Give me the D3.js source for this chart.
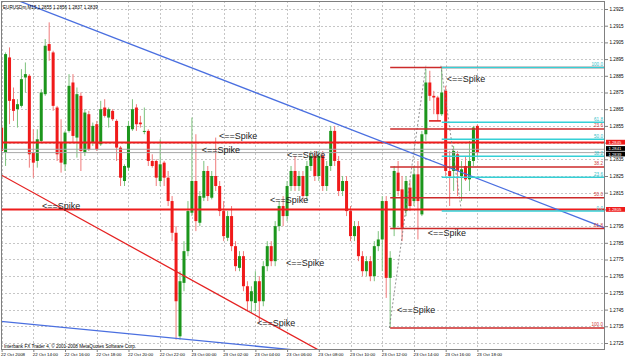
<!DOCTYPE html>
<html><head><meta charset="utf-8">
<script src="https://cdn.jsdelivr.net/npm/d3@7"></script>
<style>body{margin:0;background:#fff}svg{display:block}</style>
</head><body><svg id="c" width="625" height="360"></svg>
<script>
// ---------------- DATA ----------------
const titleText = "EURUSDm,M15  1.2855 1.2856 1.2837 1.2839";
const copyrightText = "Interbank FX Trader 4, \u00a9 2001-2008 MetaQuotes Software Corp.";
const timeLabels = ["22 Oct 2008","22 Oct 14:00","22 Oct 16:00","22 Oct 18:00","22 Oct 20:00","22 Oct 22:00",
  "23 Oct 00:00","23 Oct 02:00","23 Oct 04:00","23 Oct 06:00","23 Oct 08:00","23 Oct 10:00","23 Oct 12:00",
  "23 Oct 14:00","23 Oct 16:00","23 Oct 18:00"];
const timeTickBars = [0,8,16,24,32,40,48,56,64,72,80,88,96,104,112,120];
const priceTicks = [1.2925,1.2915,1.2905,1.2895,1.2885,1.2875,1.2865,1.2855,1.2845,1.2835,1.2825,1.2815,
  1.2805,1.2795,1.2785,1.2775,1.2765,1.2755,1.2745,1.2735,1.2725];

const opens = [1.2854,1.2839,1.2896,1.2871,1.2865,1.2867,1.2884,1.2885,1.2839,1.2834,
 1.2846,1.2874,1.2904,1.2899,1.2866,1.2845,1.2832,1.2852,1.2881,1.2848,
 1.2873,1.2839,1.2862,1.2845,1.2856,1.2844,1.2866,1.2860,1.2864,1.2858,
 1.2842,1.2822,1.2830,1.2853,1.2866,1.2857,1.2852,1.2852,1.2834,1.2834,
 1.2822,1.2833,1.2824,1.2810,1.2791,1.2729,1.2761,1.2780,1.2803,1.2822,
 1.2797,1.2812,1.2828,1.2812,1.2825,1.2819,1.2804,1.2788,1.2801,1.2783,
 1.2770,1.2777,1.2759,1.2750,1.2749,1.2762,1.2750,1.2771,1.2783,1.2774,
 1.2795,1.2807,1.2801,1.2819,1.2828,1.2819,1.2825,1.2813,1.2831,1.2837,
 1.2825,1.2837,1.2819,1.2831,1.2852,1.2834,1.2816,1.2822,1.2804,1.2789,
 1.2795,1.2777,1.2768,1.2774,1.2765,1.2783,1.2787,1.2810,1.2764,1.2794,
 1.2827,1.2817,1.2804,1.2818,1.2810,1.2826,1.2802,1.2850,1.2881,1.2873,
 1.2872,1.2862,1.2876,1.2828,1.2828,1.2838,1.2825,1.2831,1.2823,1.2834,
 1.2855];
const highs = [1.2858,1.2899,1.2902,1.2878,1.2871,1.2889,1.2893,1.2886,1.2853,1.2853,
 1.2877,1.2907,1.2917,1.2900,1.2867,1.2859,1.2852,1.2886,1.2886,1.2878,
 1.2875,1.2865,1.2864,1.2857,1.2858,1.2870,1.2871,1.2866,1.2865,1.2859,
 1.2843,1.2832,1.2858,1.2871,1.2868,1.2861,1.2866,1.2853,1.2838,1.2835,
 1.2847,1.2834,1.2828,1.2813,1.2795,1.2768,1.2786,1.2810,1.2860,1.2850,
 1.2816,1.2834,1.2831,1.2828,1.2848,1.2822,1.2810,1.2804,1.2807,1.2786,
 1.2780,1.2780,1.2762,1.2759,1.2768,1.2765,1.2774,1.2786,1.2786,1.2798,
 1.2810,1.2813,1.2822,1.2831,1.2837,1.2828,1.2828,1.2834,1.2840,1.2840,
 1.2840,1.2840,1.2834,1.2855,1.2855,1.2837,1.2825,1.2825,1.2807,1.2798,
 1.2798,1.2780,1.2777,1.2777,1.2786,1.2792,1.2813,1.2813,1.2780,1.2831,
 1.2834,1.2825,1.2825,1.2822,1.2831,1.2834,1.2852,1.2889,1.2888,1.2876,
 1.2873,1.2890,1.2879,1.2840,1.2843,1.2840,1.2834,1.2837,1.2846,1.2855,
 1.2856];
const lows = [1.2837,1.2831,1.2856,1.2858,1.2854,1.2866,1.2875,1.2830,1.2824,1.2830,
 1.2845,1.2873,1.2894,1.2864,1.2834,1.2827,1.2828,1.2851,1.2845,1.2836,
 1.2828,1.2837,1.2840,1.2843,1.2840,1.2843,1.2860,1.2854,1.2858,1.2834,
 1.2819,1.2819,1.2828,1.2852,1.2852,1.2854,1.2850,1.2831,1.2830,1.2819,
 1.2819,1.2819,1.2807,1.2786,1.2727,1.2727,1.2756,1.2777,1.2801,1.2792,
 1.2795,1.2810,1.2810,1.2811,1.2816,1.2801,1.2786,1.2786,1.2780,1.2768,
 1.2768,1.2756,1.2744,1.2743,1.2744,1.2737,1.2747,1.2768,1.2771,1.2771,
 1.2792,1.2795,1.2798,1.2816,1.2816,1.2816,1.2810,1.2810,1.2828,1.2822,
 1.2822,1.2816,1.2816,1.2828,1.2831,1.2813,1.2813,1.2801,1.2786,1.2786,
 1.2774,1.2765,1.2765,1.2762,1.2762,1.2780,1.2768,1.2752,1.2734,1.2789,
 1.2813,1.2786,1.2801,1.2804,1.2807,1.2787,1.2801,1.2846,1.2870,1.2862,
 1.2858,1.2861,1.2825,1.2807,1.2816,1.2813,1.2810,1.2822,1.2816,1.2831,
 1.2837];
const closes = [1.2840,1.2898,1.2870,1.2864,1.2868,1.2883,1.2886,1.2838,1.2833,1.2847,
 1.2875,1.2903,1.2900,1.2867,1.2838,1.2833,1.2851,1.2879,1.2849,1.2874,
 1.2840,1.2863,1.2841,1.2855,1.2841,1.2865,1.2861,1.2865,1.2859,1.2842,
 1.2824,1.2831,1.2855,1.2865,1.2856,1.2856,1.2852,1.2834,1.2831,1.2824,
 1.2832,1.2824,1.2810,1.2791,1.2750,1.2762,1.2780,1.2804,1.2822,1.2798,
 1.2813,1.2828,1.2813,1.2825,1.2819,1.2804,1.2789,1.2801,1.2783,1.2771,
 1.2777,1.2759,1.2750,1.2756,1.2762,1.2750,1.2771,1.2783,1.2774,1.2795,
 1.2807,1.2801,1.2819,1.2828,1.2819,1.2825,1.2813,1.2831,1.2837,1.2825,
 1.2837,1.2819,1.2831,1.2852,1.2834,1.2816,1.2822,1.2804,1.2789,1.2795,
 1.2777,1.2768,1.2774,1.2765,1.2783,1.2787,1.2810,1.2764,1.2776,1.2828,
 1.2816,1.2794,1.2822,1.2807,1.2826,1.2810,1.2850,1.2881,1.2873,1.2872,
 1.2862,1.2875,1.2828,1.2825,1.2840,1.2828,1.2829,1.2823,1.2834,1.2854,
 1.2839];

const hLinePrices = [1.2845, 1.2805];          // full-width red horizontal lines
const bidAskPrices = [1.2841, 1.2839];        // grey bid/ask lines
const fibRatios = [0, 0.236, 0.382, 0.5, 0.618, 1];
const redFibAnchor = [98, 1.2734, 1.2890];    // start bar, low, high (0.0 at high)
const cyanFibAnchor = [111, 1.2804, 1.2890];  // start bar, low, high (0.0 at low)
const extraRedSegment = [[107.8, 1.2858], [110.8, 1.2858]];
const blueLine1 = [[17.25, 1.2918], [140.1, 1.2805]];
const blueLine2 = [[-0.4, 1.2738], [29.9, 1.2731]];
const redLine = [[-0.4, 1.2826], [50.0, 1.2760]];
const zigzagSegments = [[[97.8, 1.2734], [107.0, 1.2891]], [[110.8, 1.2891], [115.9, 1.2805]]];
const spikeBars = [112.3, 54.8, 50.5, 72.0, 10.2, 67.7, 107.5, 71.7, 99.7, 64.4];
const spikePrices = [1.2881, 1.2847, 1.2839, 1.2836, 1.2805, 1.2809, 1.2789, 1.2771, 1.2743, 1.2735];

// ---------------- DRAW ----------------
const W = 625, H = 360, L = 1, R = 605, T = 1, B = 349;
const FONT = "'Liberation Sans', Arial, sans-serif";
const svg = d3.select("#c");
const x = d3.scaleLinear().domain([0, 120]).range([1.6, 1.6 + 120 * 3.965]);
const y = d3.scaleLinear().domain([1.2725, 1.2925]).range([343, 9]);

svg.append("rect").attr("width", W).attr("height", H).attr("fill", "#fff");
svg.append("defs").append("clipPath").attr("id", "clip")
  .append("rect").attr("x", L).attr("y", T).attr("width", R - L).attr("height", B - T);
const g = svg.append("g").attr("clip-path", "url(#clip)");

// grid
g.selectAll(".hg").data(priceTicks).join("line")
  .attr("x1", L).attr("x2", R)
  .attr("y1", d => Math.round(y(d)) + 0.5).attr("y2", d => Math.round(y(d)) + 0.5)
  .attr("stroke", "#c6c6c6").attr("stroke-dasharray", "2,2");
g.selectAll(".vg").data(timeTickBars).join("line")
  .attr("y1", T).attr("y2", B)
  .attr("x1", d => Math.round(x(d)) + 0.5).attr("x2", d => Math.round(x(d)) + 0.5)
  .attr("stroke", "#c6c6c6").attr("stroke-dasharray", "2,2");

// candles
const idx = d3.range(opens.length);
const up = i => closes[i] >= opens[i];
g.selectAll(".wick").data(idx).join("line")
  .attr("x1", i => x(i)).attr("x2", i => x(i))
  .attr("y1", i => y(highs[i])).attr("y2", i => y(lows[i]))
  .attr("stroke", i => up(i) ? "#7cc27c" : "#f07a7a").attr("stroke-width", 1);
g.selectAll(".body").data(idx).join("rect")
  .attr("x", i => x(i) - 1.5).attr("width", 3)
  .attr("y", i => Math.min(y(opens[i]), y(closes[i])))
  .attr("height", i => Math.max(1, Math.abs(y(opens[i]) - y(closes[i]))))
  .attr("fill", i => up(i) ? "#1c961c" : "#f01a1a");

// bid/ask lines
g.selectAll(".ba").data(bidAskPrices).join("line")
  .attr("x1", L).attr("x2", R).attr("y1", d => y(d)).attr("y2", d => y(d))
  .attr("stroke", "#a8a8a8").attr("stroke-width", 1);

// full-width red lines
g.selectAll(".hl").data(hLinePrices).join("line")
  .attr("x1", L).attr("x2", R).attr("y1", d => y(d)).attr("y2", d => y(d))
  .attr("stroke", "#ee1c1c").attr("stroke-width", 2);

// trend lines (rays extended across the chart)
function extLine(p, color, w) {
  const [a, b] = p;
  const s = (b[1] - a[1]) / (b[0] - a[0]);
  const x0 = -2, x1 = 160;
  g.append("line")
    .attr("x1", x(x0)).attr("y1", y(a[1] + s * (x0 - a[0])))
    .attr("x2", x(x1)).attr("y2", y(a[1] + s * (x1 - a[0])))
    .attr("stroke", color).attr("stroke-width", w);
}
extLine(blueLine1, "#4a6fe0", 1.3);
extLine(blueLine2, "#4a6fe0", 1.3);
extLine(redLine, "#e52222", 1.3);

// zigzag dashed
zigzagSegments.forEach(seg => {
  g.append("line")
    .attr("x1", x(seg[0][0])).attr("y1", y(seg[0][1]))
    .attr("x2", x(seg[1][0])).attr("y2", y(seg[1][1]))
    .attr("stroke", "#777").attr("stroke-width", 0.8).attr("stroke-dasharray", "2,2");
});

// fibonacci: red (0 at high), cyan (0 at low)
function fib(anchor, color, labelColor, fromHigh) {
  const [bar, lo, hi] = anchor;
  fibRatios.forEach(r => {
    const p = fromHigh ? hi - r * (hi - lo) : lo + r * (hi - lo);
    g.append("line").attr("x1", x(bar)).attr("x2", R)
      .attr("y1", y(p)).attr("y2", y(p))
      .attr("stroke", color).attr("stroke-width", 1.6);
    // the red 0.0 level lies under the cyan 100.0 level, its label is hidden there
    if (fromHigh && r === 0) return;
    g.append("text").attr("x", R - 2).attr("y", y(p) - 1.5)
      .attr("text-anchor", "end").attr("font-family", FONT).attr("font-size", 4.6)
      .attr("fill", labelColor).text((r * 100).toFixed(1));
  });
}
fib(redFibAnchor, "#cc2a2a", "#d04040", true);
g.append("line")
  .attr("x1", x(extraRedSegment[0][0])).attr("x2", x(extraRedSegment[1][0]))
  .attr("y1", y(extraRedSegment[0][1])).attr("y2", y(extraRedSegment[1][1]))
  .attr("stroke", "#dd2222").attr("stroke-width", 1.6);
fib(cyanFibAnchor, "#35d0d6", "#30c0c8", false);

// spike labels
g.selectAll(".spk").data(spikeBars).join("text")
  .attr("x", d => x(d)).attr("y", (d, i) => y(spikePrices[i]))
  .attr("font-family", FONT).attr("font-size", 9).attr("fill", "#222")
  .text("<==Spike");

// title & copyright
svg.append("text").attr("x", 3).attr("y", 9).attr("font-family", FONT).attr("font-size", 4.6)
  .attr("fill", "#000").text(titleText);
svg.append("text").attr("x", 4).attr("y", 347.5).attr("font-family", FONT).attr("font-size", 4.6)
  .attr("fill", "#000").text(copyrightText);

// frame
svg.append("rect").attr("x", L + 0.5).attr("y", T + 0.5).attr("width", R - L - 1).attr("height", B - T)
  .attr("fill", "none").attr("stroke", "#808080");

// right axis (tick labels that sit under a price tag are hidden, as in the terminal)
const tagPrices = hLinePrices.concat(bidAskPrices);
const ya = svg.append("g").attr("transform", `translate(${R},0)`)
  .call(d3.axisRight(y).tickValues(priceTicks).tickSize(3).tickPadding(1.5).tickFormat(d3.format(".4f")));
ya.select(".domain").remove();
ya.selectAll("line").attr("stroke", "#808080");
ya.selectAll("text").attr("font-family", FONT).attr("font-size", 4.6).attr("fill", "#000")
  .attr("display", d => tagPrices.some(p => Math.abs(y(p) - y(d)) < 5) ? "none" : null);

// bottom axis
const xa = svg.append("g").attr("transform", `translate(0,${B})`)
  .call(d3.axisBottom(x).tickValues(timeTickBars).tickSize(3).tickFormat((d, i) => timeLabels[i]));
xa.select(".domain").remove();
xa.selectAll("line").attr("stroke", "#808080");
xa.selectAll("text").attr("font-family", FONT).attr("font-size", 4.4).attr("fill", "#000")
  .attr("text-anchor", "start").attr("dx", -1).attr("dy", 1.2);

// price tags (stacked so they do not overlap)
function tag(p, fill, shift) {
  const gy = y(p) + shift;
  svg.append("rect").attr("x", R + 1).attr("y", gy - 2.4).attr("width", 19).attr("height", 4.8).attr("fill", fill);
  svg.append("text").attr("x", R + 3.5).attr("y", gy + 1.5).attr("font-family", FONT).attr("font-size", 4.2)
    .attr("fill", "#fff").text(d3.format(".4f")(p));
}
tag(hLinePrices[0], "#ee1c1c", -0.4);
tag(hLinePrices[1], "#ee1c1c", 0);
tag(bidAskPrices[0], "#000", -0.8);
tag(bidAskPrices[1], "#000", 1.4);
</script></body></html>
